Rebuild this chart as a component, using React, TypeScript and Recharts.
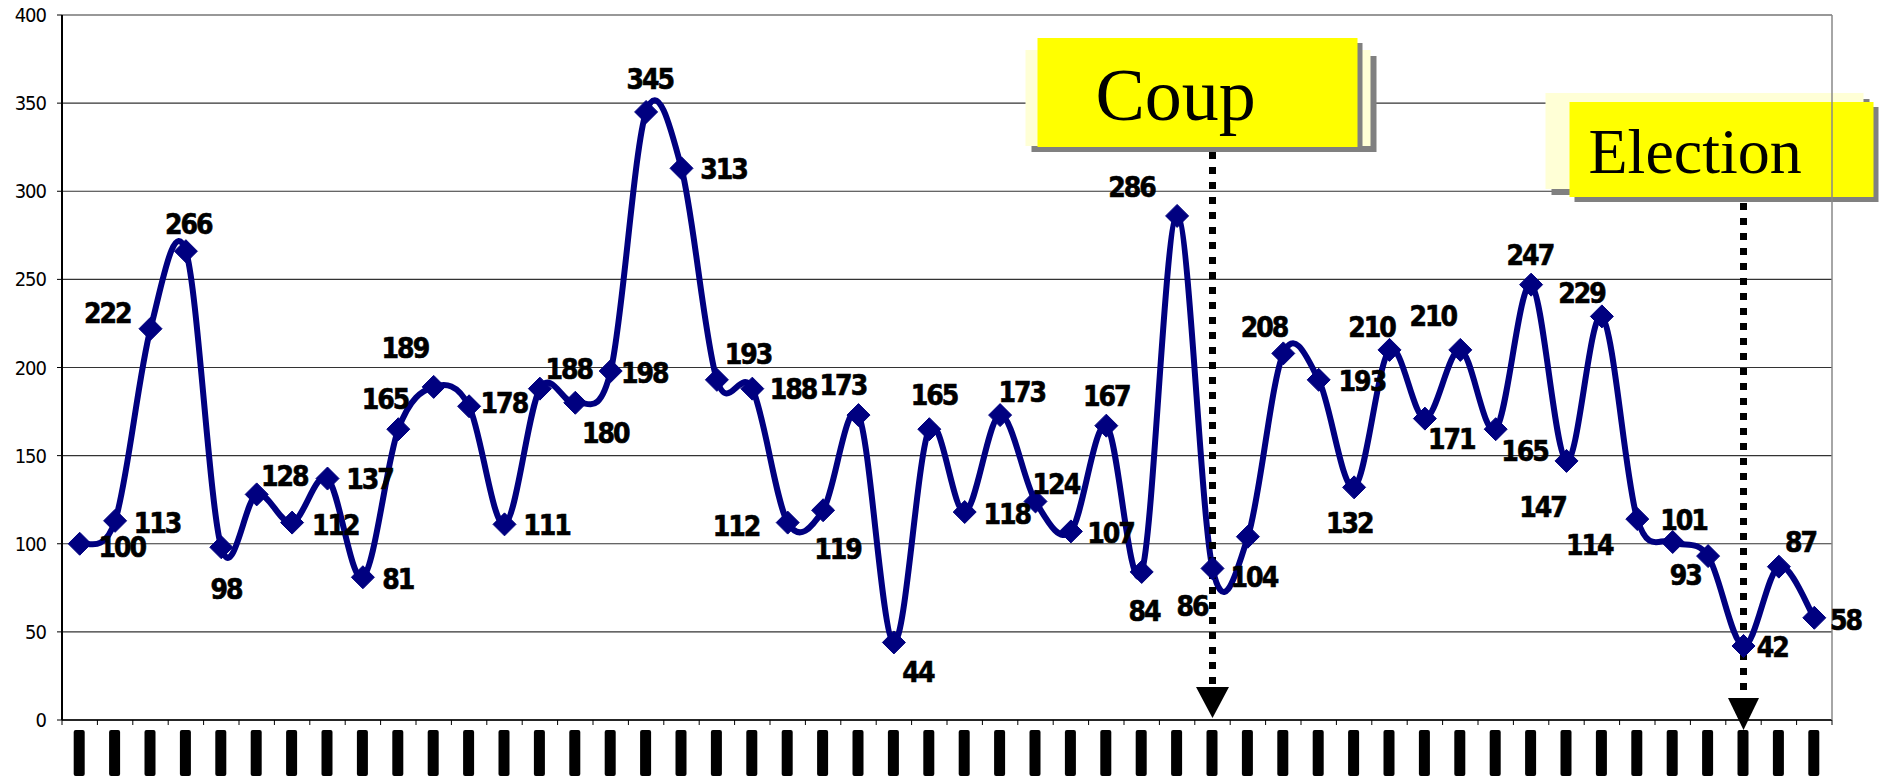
import React from 'react';
import { LineChart, Line, XAxis, YAxis, CartesianGrid, LabelList, ReferenceLine } from 'recharts';

// categories (the original axis labels are unreadable black bars)
const periods = [
  '1', '2', '3', '4', '5', '6', '7', '8', '9', '10',
  '11', '12', '13', '14', '15', '16', '17', '18', '19', '20',
  '21', '22', '23', '24', '25', '26', '27', '28', '29', '30',
  '31', '32', '33', '34', '35', '36', '37', '38', '39', '40',
  '41', '42', '43', '44', '45', '46', '47', '48', '49', '50',
];

const values = [
  100, 113, 222, 266, 98, 128, 112, 137, 81, 165,
  189, 178, 111, 188, 180, 198, 345, 313, 193, 188,
  112, 119, 173, 44, 165, 118, 173, 124, 107, 167,
  84, 286, 86, 104, 208, 193, 132, 210, 171, 210,
  165, 247, 147, 229, 114, 101, 93, 42, 87, 58,
];

const yTicks = [0, 50, 100, 150, 200, 250, 300, 350, 400];

const coupPeriod = '33';
const electionPeriod = '48';

// where each data label sits relative to its marker (dx, dy of the label centre)
const labelNudge: [number, number][] = [
  [35, 3], [35, 2], [-36, -13], [2, -22], [4, 35], [23, -15], [36, 2], [35, 1], [29, 2], [-11, -25],
  [-24, -32], [29, -2], [35, 1], [24, -16], [25, 26], [28, 2], [3, -27], [35, 1], [26, -21], [34, 1],
  [-43, 3], [12, 33], [-13, -25], [20, 25], [4, -28], [35, 2], [18, -19], [17, -14], [33, 2], [0, -24],
  [2, 33], [-38, -24], [-17, 32], [5, 34], [-16, -22], [36, 1], [-4, 30], [-15, -19], [22, 17], [-23, -28],
  [24, 19], [-1, -24], [-20, 39], [-17, -19], [-40, 22], [9, -18], [-19, 16], [24, 1], [18, -20], [26, 2],
];

const data = periods.map((p, i) => ({ period: p, value: values[i] }));

const W = 1879;
const H = 778;
const PLOT_LEFT = 62;
const PLOT_RIGHT = 1832;
const BAND = (PLOT_RIGHT - PLOT_LEFT) / periods.length;
const NAVY = '#000080';
const LABEL_FONT = '"DejaVu Sans Condensed", "DejaVu Sans", sans-serif';

// Excel-style smoothed line (Catmull-Rom through every point)
const excelSmooth = (context: any) => {
  let pts: number[][] = [];
  return {
    areaStart() {},
    areaEnd() {},
    lineStart() {
      pts = [];
    },
    point(x: number, y: number) {
      pts.push([+x, +y]);
    },
    lineEnd() {
      if (!pts.length) return;
      context.moveTo(pts[0][0], pts[0][1]);
      for (let i = 0; i < pts.length - 1; i++) {
        const p0 = pts[i - 1] || pts[i];
        const p1 = pts[i];
        const p2 = pts[i + 1];
        const p3 = pts[i + 2] || p2;
        const t = 1 / 6;
        context.bezierCurveTo(
          p1[0] + (p2[0] - p0[0]) * t,
          p1[1] + (p2[1] - p0[1]) * t,
          p2[0] - (p3[0] - p1[0]) * t,
          p2[1] - (p3[1] - p1[1]) * t,
          p2[0],
          p2[1]
        );
      }
    },
  };
};

const Diamond = (props: any) => {
  const { cx, cy, index } = props;
  if (cx == null || cy == null) return <g key={`d-${index}`} />;
  const r = 11.5;
  return (
    <path
      key={`d-${index}`}
      d={`M${cx},${cy - r}L${cx + r},${cy}L${cx},${cy + r}L${cx - r},${cy}Z`}
      fill={NAVY}
      stroke={NAVY}
    />
  );
};

const ValueLabel = (props: any) => {
  const x = props.x ?? props.viewBox?.x;
  const y = props.y ?? props.viewBox?.y;
  const [dx, dy] = labelNudge[props.index] || [30, 0];
  return (
    <text
      x={x + dx * 1.2}
      y={y + dy * 1.2}
      textAnchor="middle"
      dominantBaseline="central"
      fontSize={28}
      fontWeight="bold"
      letterSpacing={-2}
      fill="#000"
      stroke="#000"
      strokeWidth={0.6}
      style={{ fontFamily: LABEL_FONT, fontStretch: 'condensed' }}
    >
      {props.value}
    </text>
  );
};

// the category labels show up as solid black bars, with ticks between categories
const BarTick = (props: any) => {
  const { x, y, index } = props;
  const base = y - 7;
  return (
    <g>
      <line x1={x - BAND / 2} x2={x - BAND / 2} y1={base} y2={base + 5} stroke="#000" />
      {index === periods.length - 1 && (
        <line x1={x + BAND / 2} x2={x + BAND / 2} y1={base} y2={base + 5} stroke="#000" />
      )}
      <rect x={x - 6} y={base + 10} width={11} height={46} rx={2} fill="#000" />
    </g>
  );
};

type MarkerCfg = {
  word: string;
  size: number;
  textDx: number;
  baseline: number;
  box: [number, number, number, number];
  pale: [number, number, number, number];
  dashTop: number;
  tipOffset: number;
  headW: number;
  headH: number;
};

const coupCfg: MarkerCfg = {
  word: 'Coup',
  size: 74,
  textDx: -117,
  baseline: 120,
  box: [-175, 38, 320, 109],
  pale: [-187, 50, 345, 96],
  dashTop: 152,
  tipOffset: -2,
  headW: 33,
  headH: 31,
};

const electionCfg: MarkerCfg = {
  word: 'Election',
  size: 64,
  textDx: -155,
  baseline: 173,
  box: [-174, 102, 304, 95],
  pale: [-198, 93, 318, 96],
  dashTop: 203,
  tipOffset: 10,
  headW: 31,
  headH: 32,
};

const makeMarker = (cfg: MarkerCfg) => (props: any) => {
  const x = props.x1;
  const axisY = Math.max(props.y1, props.y2);
  const tip = axisY + cfg.tipOffset;
  const [bx, by, bw, bh] = cfg.box;
  const [px, py, pw, ph] = cfg.pale;
  return (
    <g>
      <rect x={x + px + 6} y={py + 6} width={pw} height={ph} fill="#808080" />
      <rect x={x + px} y={py} width={pw} height={ph} fill="#ffffd6" />
      <rect x={x + bx + 5} y={by + 5} width={bw} height={bh} fill="#808080" />
      <rect x={x + bx} y={by} width={bw} height={bh} fill="#ffff00" />
      <text
        x={x + cfg.textDx}
        y={cfg.baseline}
        fontSize={cfg.size}
        fill="#000"
        style={{ fontFamily: '"Liberation Serif", "Times New Roman", serif' }}
      >
        {cfg.word}
      </text>
      <line
        x1={x}
        x2={x}
        y1={cfg.dashTop}
        y2={tip - cfg.headH}
        stroke="#000"
        strokeWidth={7}
        strokeDasharray="7 8"
      />
      <path
        d={`M${x - cfg.headW / 2},${tip - cfg.headH}L${x + cfg.headW / 2},${tip - cfg.headH}L${x},${tip}Z`}
        fill="#000"
      />
    </g>
  );
};

const App: React.FC = () => {
  return (
    <div style={{ position: 'absolute', left: 0, top: 0, width: W, height: H, background: '#fff' }}>
      <LineChart width={W} height={H} data={data} margin={{ top: 15, right: 46, bottom: 0, left: 0 }}>
        <CartesianGrid vertical={false} stroke="#333" strokeWidth={1.2} />
        <XAxis
          dataKey="period"
          interval={0}
          height={58}
          padding={{ left: BAND / 2, right: BAND / 2 }}
          axisLine={{ stroke: '#000', strokeWidth: 1.5 }}
          tickLine={false}
          tickSize={5}
          tickMargin={2}
          tick={<BarTick />}
        />
        <YAxis
          domain={[0, 400]}
          ticks={yTicks}
          width={62}
          interval={0}
          axisLine={{ stroke: '#000', strokeWidth: 2 }}
          tickLine={{ stroke: '#000' }}
          tickSize={5}
          tickMargin={11}
          tick={{ fill: '#000', fontSize: 20, fontFamily: LABEL_FONT, letterSpacing: -1 }}
        />
        <YAxis
          yAxisId="frame"
          orientation="right"
          domain={[0, 400]}
          width={1}
          tick={false}
          tickLine={false}
          axisLine={{ stroke: '#888', strokeWidth: 1.5 }}
        />
        <Line
          dataKey="value"
          type={excelSmooth as any}
          stroke={NAVY}
          strokeWidth={6}
          dot={Diamond}
          activeDot={false}
          isAnimationActive={false}
        >
          <LabelList dataKey="value" content={ValueLabel} />
        </Line>
        <ReferenceLine x={coupPeriod} stroke="#000" shape={makeMarker(coupCfg)} />
        <ReferenceLine x={electionPeriod} stroke="#000" shape={makeMarker(electionCfg)} />
      </LineChart>
    </div>
  );
};

export default App;
